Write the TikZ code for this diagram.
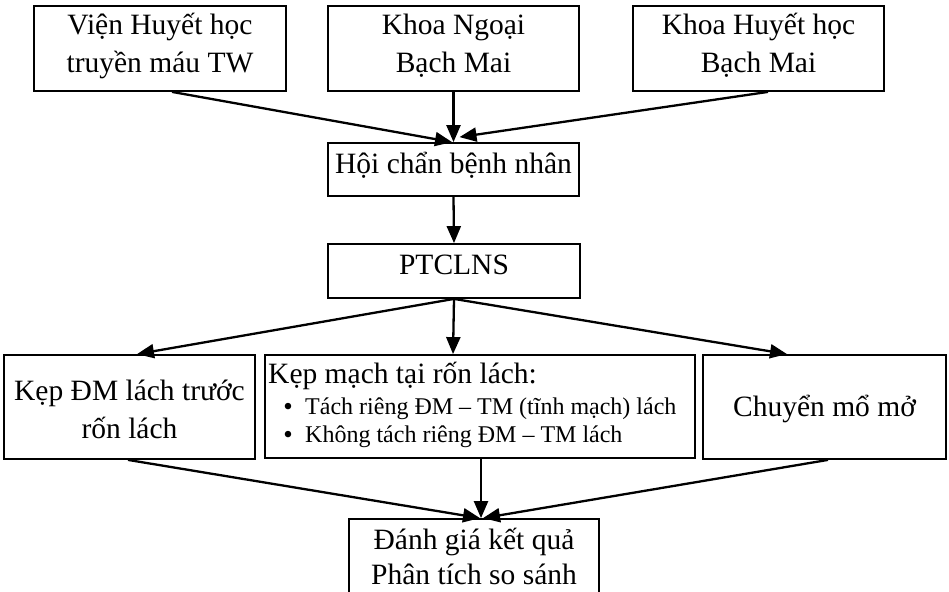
\documentclass[tikz,border=0pt]{standalone}
\usepackage{fontspec}
\setmainfont{Liberation Serif}
\usetikzlibrary{arrows.meta}
\begin{document}
\begin{tikzpicture}[x=1pt,y=-1pt,
  box/.style={draw, line width=1.8pt, inner sep=0pt, minimum height=#1},
  txt/.style={inner sep=0pt, anchor=base, font=\fontsize{29.5}{38}\selectfont},
  small/.style={inner sep=0pt, anchor=base west, font=\fontsize{24}{28}\selectfont},
  bullet/.style={inner sep=0pt, anchor=base, font=\fontsize{27}{28}\selectfont},
  arr/.style={line width=2.3pt, -{Triangle[length=17pt,width=14pt]}}]
\useasboundingbox (0,0) rectangle (949,591);
% boxes
\node[box=85pt, minimum width=252pt] (b1) at (160,48.5) {};
\node[box=85pt, minimum width=251pt] (b2) at (453.5,48.5) {};
\node[box=85pt, minimum width=251pt] (b3) at (758.5,48.5) {};
\node[box=53pt, minimum width=251pt] (hoi) at (453.5,169.5) {};
\node[box=54pt, minimum width=252pt] (pt) at (454,271) {};
\node[box=104pt, minimum width=251pt] (L) at (129.5,407) {};
\node[box=103pt, minimum width=430pt] (M) at (480,406.5) {};
\node[box=104pt, minimum width=243pt] (R) at (824.5,407) {};
\node[box=100pt, minimum width=250pt] (E) at (474,569) {};
% texts
\node[txt] (t1a) at (160,35) {Viện Huyết học};
\node[txt] (t1b) at (160,73) {truyền máu TW};
\node[txt] (t2a) at (453.5,35) {Khoa Ngoại};
\node[txt] (t2b) at (453.5,73) {Bạch Mai};
\node[txt] (t3a) at (758.5,35) {Khoa Huyết học};
\node[txt] (t3b) at (758.5,73) {Bạch Mai};
\node[txt] (thoi) at (453.5,173) {Hội chẩn bệnh nhân};
\node[txt] (tpt) at (454,274) {PTCLNS};
\node[txt] (tLa) at (129.5,400) {Kẹp ĐM lách trước};
\node[txt] (tLb) at (129.5,438) {rốn lách};
\node[txt, anchor=base west] (tMh) at (268,383) {Kẹp mạch tại rốn lách:};
\node[bullet] (bul1) at (288,415) {•};
\node[small] (tM1) at (305,414) {Tách riêng ĐM – TM (tĩnh mạch) lách};
\node[bullet] (bul2) at (288,443) {•};
\node[small] (tM2) at (305,442) {Không tách riêng ĐM – TM lách};
\node[txt] (tR) at (824.5,416) {Chuyển mổ mở};
\node[txt] (tEa) at (474,549) {Đánh giá kết quả};
\node[txt] (tEb) at (474,584) {Phân tích so sánh};
% connectors
\draw[arr] ([xshift=12pt]b1.south) -- ([xshift=-1.5pt]hoi.north);
\draw[arr] (b2.south) -- (hoi.north);
\draw[arr] ([xshift=9.5pt]b3.south) -- ([xshift=6pt,yshift=5pt]hoi.north);
\draw[arr] (hoi.south) -- (pt.north);
\draw[arr] (pt.south) -- ([xshift=7.5pt]L.north);
\draw[arr] (pt.south) -- ([xshift=-27pt]M.north);
\draw[arr] (pt.south) -- ([xshift=-37.5pt]R.north);
\draw[arr] ([xshift=-1.5pt]L.south) -- ([xshift=6pt]E.north);
\draw[arr] ([xshift=1pt]M.south) -- ([xshift=7pt]E.north);
\draw[arr] ([xshift=3.5pt]R.south) -- ([xshift=9pt]E.north);
\end{tikzpicture}
\end{document}
